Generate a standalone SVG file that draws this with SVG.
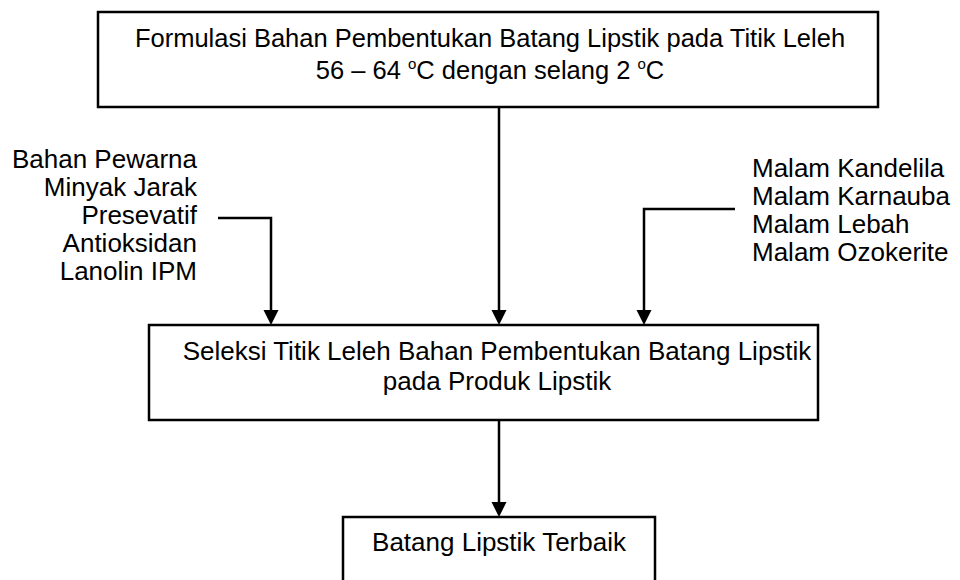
<svg xmlns="http://www.w3.org/2000/svg" width="960" height="580" viewBox="0 0 960 580">
<defs>
<style>
.box{fill:#fff;stroke:#000;stroke-width:2.5}
.t{font-family:"Liberation Sans",Arial,sans-serif;font-size:26px;fill:#000}
.c{text-anchor:middle}
.r{text-anchor:end}
.ln{fill:none;stroke:#000;stroke-width:2.5}
.sup{font-size:15px}
.ah{fill:#000}
</style>
</defs>
<rect width="960" height="580" fill="#fff"/>
<g id="connectors">
<path class="ln" d="M499,107 L499,312"/>
<path class="ah" d="M491.5,310 L506.5,310 L499,325 Z"/>
<path class="ln" d="M218,218 L271,218 L271,312"/>
<path class="ah" d="M263.5,310 L278.5,310 L271,325 Z"/>
<path class="ln" d="M735,209 L644,209 L644,312"/>
<path class="ah" d="M636.5,310 L651.5,310 L644,325 Z"/>
<path class="ln" d="M499,420 L499,504"/>
<path class="ah" d="M491.5,502 L506.5,502 L499,517 Z"/>
</g>
<g id="node-formulasi">
<rect class="box" x="98" y="12" width="780" height="95"/>
<text class="t c" x="490" y="47" style="font-size:25.5px">Formulasi Bahan Pembentukan Batang Lipstik pada Titik Leleh</text>
<text class="t c" x="490" y="79" style="font-size:25.5px">56 – 64 <tspan class="sup" dy="-10">o</tspan><tspan dy="10">C dengan selang 2 </tspan><tspan class="sup" dy="-10">o</tspan><tspan dy="10">C</tspan></text>
</g>
<g id="node-bahan-lain">
<text class="t r" x="197" y="168">Bahan Pewarna</text>
<text class="t r" x="197" y="196">Minyak Jarak</text>
<text class="t r" x="197" y="224">Presevatif</text>
<text class="t r" x="197" y="252">Antioksidan</text>
<text class="t r" x="197" y="280">Lanolin IPM</text>
</g>
<g id="node-malam">
<text class="t" x="752" y="177">Malam Kandelila</text>
<text class="t" x="752" y="205">Malam Karnauba</text>
<text class="t" x="752" y="233">Malam Lebah</text>
<text class="t" x="752" y="261">Malam Ozokerite</text>
</g>
<g id="node-seleksi">
<rect class="box" x="149" y="325" width="669" height="95"/>
<text class="t c" x="497" y="360">Seleksi Titik Leleh Bahan Pembentukan Batang Lipstik</text>
<text class="t c" x="497" y="390">pada Produk Lipstik</text>
</g>
<g id="node-terbaik">
<rect class="box" x="343" y="517" width="312" height="80"/>
<text class="t c" x="499" y="551">Batang Lipstik Terbaik</text>
</g>
</svg>
